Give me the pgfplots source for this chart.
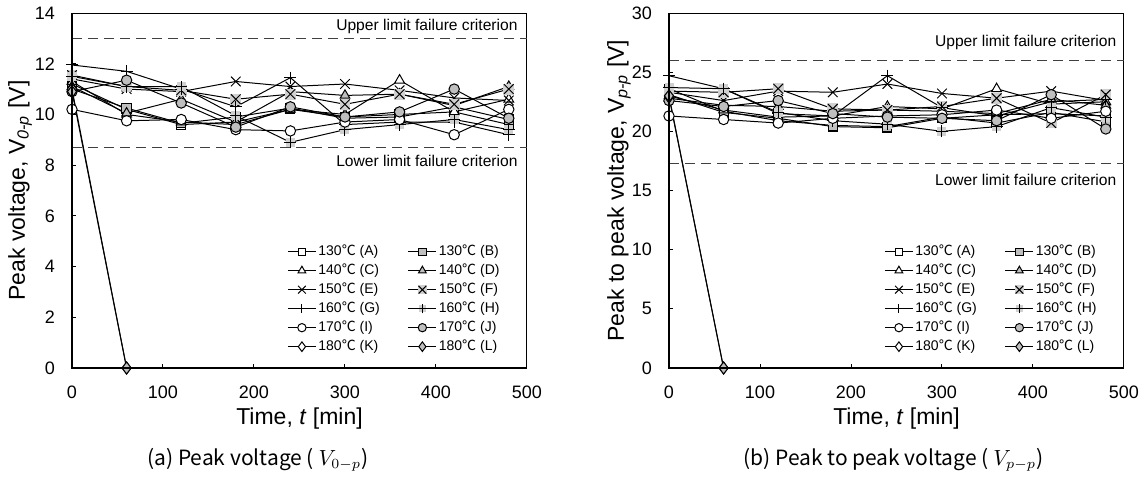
\documentclass[border=0pt]{standalone}
\usepackage{fontspec}
\setmainfont{Liberation Sans}
\newfontfamily\cjk{Noto Sans CJK KR}
\usepackage{pgfplots}
\pgfplotsset{compat=1.18}
\usepackage{pgfplotstable}

\definecolor{mgray}{HTML}{BFBFBF}
\definecolor{lgray}{HTML}{D0D0D0}
\definecolor{dgray}{HTML}{404040}

\pgfdeclareplotmark{xsq}{%
  \pgfpathrectangle{\pgfqpoint{-.8\pgfplotmarksize}{-.8\pgfplotmarksize}}{\pgfqpoint{1.6\pgfplotmarksize}{1.6\pgfplotmarksize}}%
  \pgfsetfillcolor{lgray}\pgfusepathqfill
  \pgfpathmoveto{\pgfqpoint{-.70710678\pgfplotmarksize}{-.70710678\pgfplotmarksize}}%
  \pgfpathlineto{\pgfqpoint{.70710678\pgfplotmarksize}{.70710678\pgfplotmarksize}}%
  \pgfpathmoveto{\pgfqpoint{-.70710678\pgfplotmarksize}{.70710678\pgfplotmarksize}}%
  \pgfpathlineto{\pgfqpoint{.70710678\pgfplotmarksize}{-.70710678\pgfplotmarksize}}%
  \pgfusepathqstroke
}
\pgfdeclareplotmark{plussq}{%
  \pgfpathrectangle{\pgfqpoint{-.75\pgfplotmarksize}{-.75\pgfplotmarksize}}{\pgfqpoint{1.5\pgfplotmarksize}{1.5\pgfplotmarksize}}%
  \pgfsetfillcolor{lgray}\pgfusepathqfill
  \pgfpathmoveto{\pgfqpoint{-\pgfplotmarksize}{0pt}}%
  \pgfpathlineto{\pgfqpoint{\pgfplotmarksize}{0pt}}%
  \pgfpathmoveto{\pgfqpoint{0pt}{-\pgfplotmarksize}}%
  \pgfpathlineto{\pgfqpoint{0pt}{\pgfplotmarksize}}%
  \pgfusepathqstroke
}

\pgfplotstableread{
t    A     B     C     D     E     F     G     H     I     J
0    11.2  11.0  11.3  11.1  11.4  11.55 11.95 11.5  10.2  10.9
60   10.2  10.25 10.0  10.05 11.0  11.1  11.7  11.1  9.75  11.35
120  9.6   9.65  9.7   10.6  10.9  10.95 11.0  11.1  9.8   10.45
180  9.7   9.9   9.6   9.7   11.3  10.6  10.3  9.95  9.4   9.5
240  10.2  10.25 10.2  10.9  11.1  10.8  11.45 8.9   9.35  10.3
300  9.9   9.85  10.0  10.75 11.2  10.4  9.6   9.4   9.7   9.9
360  10.0  9.9   11.35 10.8  10.95 10.8  9.7   9.6   9.8   10.1
420  10.1  10.3  10.1  10.35 10.65 10.4  9.7   9.8   9.2   11.0
480  9.6   9.8   10.6  11.1  10.55 11.0  9.2   9.4   10.2  9.85
}\leftdata

\pgfplotstableread{
t    A     B     C     D     E     F     G     H     I     J
0    23.1  23.6  23.0  22.8  23.3  23.4  24.7  23.7  21.3  22.6
60   21.6  21.7  21.8  22.2  22.6  23.3  23.6  23.6  21.0  22.1
120  21.1  20.9  21.2  22.1  23.4  23.6  21.5  21.6  20.7  22.6
180  20.4  20.5  21.3  21.7  23.3  21.9  21.3  20.9  21.1  21.5
240  20.3  20.4  22.1  21.8  24.0  21.8  24.7  20.6  21.3  21.2
300  21.1  21.2  21.9  21.7  23.2  22.1  22.0  20.0  21.4  21.1
360  21.4  20.7  23.6  21.5  22.8  22.8  21.3  20.4  21.8  20.9
420  21.5  21.6  22.3  22.7  23.4  20.7  22.5  22.0  21.1  23.1
480  21.3  20.8  22.5  22.2  22.6  23.1  22.7  21.2  21.7  20.2
}\rightdata

\pgfplotsset{
  myaxis/.style={
    scale only axis, width=227.5pt, height=177.5pt,
    xmin=0, xmax=500, xtick={0,100,...,500},
    axis line style={line width=0.5pt},
    tick align=inside, xtick pos=bottom, ytick pos=left,
    major tick length=2pt,
    tick style={black, line width=0.5pt},
    tick label style={font=\fontsize{9}{10}\selectfont},
    /pgf/number format/assume math mode=true,
    xticklabel style={yshift=-5.5pt},
    yticklabel style={xshift=-5pt},
    label style={font=\fontsize{11.5}{13}\selectfont},
    xlabel={Time, \textit{t} [min]},
    xlabel style={at={(axis description cs:0.5,-0.141)}, anchor=center},
    clip=false,
    legend columns=2,
    legend style={draw=none, fill=none, at={(0.945,0.035)}, anchor=south east,
      font=\fontsize{7}{8}\selectfont, inner sep=0pt, row sep=1pt,
      /tikz/every even column/.append style={column sep=13pt},
      nodes={text height=5pt, text depth=1.5pt, inner sep=1pt}},
    legend cell align=left,
    legend image code/.code={\draw[mark repeat=2,mark phase=2,##1,every mark/.append style={scale=0.8}] plot coordinates {(0pt,0pt)(7pt,0pt)(14pt,0pt)};},
    every axis plot/.append style={black, line width=0.5pt},
    after end axis/.code={\draw[line width=1pt] (rel axis cs:0,1) -- (rel axis cs:0,0) -- (rel axis cs:1,0);},
  },
  limline/.style={forget plot, dgray, line width=0.75pt, dash pattern=on 5pt off 3pt},
  sA/.style={mark=square*, mark size=2.3pt, mark options={fill=white, solid}},
  sB/.style={mark=square*, mark size=2.3pt, mark options={fill=mgray, solid}},
  sC/.style={mark=triangle*, mark size=2.8pt, mark options={fill=white, solid}},
  sD/.style={mark=triangle*, mark size=2.8pt, mark options={fill=mgray, solid}},
  sE/.style={mark=x, mark size=3.4pt},
  sF/.style={mark=xsq, mark size=3.4pt},
  sG/.style={mark=+, mark size=3pt},
  sH/.style={mark=plussq, mark size=3pt},
  sI/.style={mark=*, mark size=2.6pt, mark options={fill=white, solid}},
  sJ/.style={mark=*, mark size=2.6pt, mark options={fill=mgray, solid}},
  sK/.style={mark=diamond*, mark size=3pt, mark options={fill=white, solid}},
  sL/.style={mark=diamond*, mark size=3pt, mark options={fill=mgray, solid}},
}

\newcommand{\degC}{{\cjk ℃}}

\begin{document}
\begin{tikzpicture}
\useasboundingbox (0,0) rectangle (573.5pt,239.5pt);

% ---------------- (a) ----------------
\begin{axis}[myaxis, at={(36pt,55.5pt)}, anchor=south west,
  ymin=0, ymax=14, ytick={0,2,...,14},
  ylabel={Peak voltage, V\textsubscript{\itshape 0-p} [V]},
  ylabel style={at={(axis description cs:-0.114,0.5)}, anchor=center}]
\addplot[limline] coordinates {(0,13) (500,13)};
\addplot[limline] coordinates {(0,8.7) (500,8.7)};
\addplot[sA] table[x=t,y=A]{\leftdata}; \addlegendentry{130\degC{} (A)}
\addplot[sB] table[x=t,y=B]{\leftdata}; \addlegendentry{130\degC{} (B)}
\addplot[sC] table[x=t,y=C]{\leftdata}; \addlegendentry{140\degC{} (C)}
\addplot[sD] table[x=t,y=D]{\leftdata}; \addlegendentry{140\degC{} (D)}
\addplot[sE] table[x=t,y=E]{\leftdata}; \addlegendentry{150\degC{} (E)}
\addplot[sF] table[x=t,y=F]{\leftdata}; \addlegendentry{150\degC{} (F)}
\addplot[sG] table[x=t,y=G]{\leftdata}; \addlegendentry{160\degC{} (G)}
\addplot[sH] table[x=t,y=H]{\leftdata}; \addlegendentry{160\degC{} (H)}
\addplot[sI] table[x=t,y=I]{\leftdata}; \addlegendentry{170\degC{} (I)}
\addplot[sJ] table[x=t,y=J]{\leftdata}; \addlegendentry{170\degC{} (J)}
\addplot[sK] coordinates {(0,11.0) (60,0)}; \addlegendentry{180\degC{} (K)}
\addplot[sL] coordinates {(0,10.9) (60,0)}; \addlegendentry{180\degC{} (L)}
\node[anchor=east, font=\fontsize{7.8}{9}\selectfont, inner sep=0pt] at (axis cs:490,13.45) {Upper limit failure criterion};
\node[anchor=east, font=\fontsize{7.8}{9}\selectfont, inner sep=0pt] at (axis cs:490,8.16) {Lower limit failure criterion};
\end{axis}

% ---------------- (b) ----------------
\begin{axis}[myaxis, at={(334.5pt,55.5pt)}, anchor=south west,
  ymin=0, ymax=30, ytick={0,5,...,30},
  ylabel={Peak to peak voltage, V\textsubscript{\itshape p-p} [V]},
  ylabel style={at={(axis description cs:-0.110,0.5)}, anchor=center}]
\addplot[limline] coordinates {(0,26) (500,26)};
\addplot[limline] coordinates {(0,17.3) (500,17.3)};
\addplot[sA] table[x=t,y=A]{\rightdata}; \addlegendentry{130\degC{} (A)}
\addplot[sB] table[x=t,y=B]{\rightdata}; \addlegendentry{130\degC{} (B)}
\addplot[sC] table[x=t,y=C]{\rightdata}; \addlegendentry{140\degC{} (C)}
\addplot[sD] table[x=t,y=D]{\rightdata}; \addlegendentry{140\degC{} (D)}
\addplot[sE] table[x=t,y=E]{\rightdata}; \addlegendentry{150\degC{} (E)}
\addplot[sF] table[x=t,y=F]{\rightdata}; \addlegendentry{150\degC{} (F)}
\addplot[sG] table[x=t,y=G]{\rightdata}; \addlegendentry{160\degC{} (G)}
\addplot[sH] table[x=t,y=H]{\rightdata}; \addlegendentry{160\degC{} (H)}
\addplot[sI] table[x=t,y=I]{\rightdata}; \addlegendentry{170\degC{} (I)}
\addplot[sJ] table[x=t,y=J]{\rightdata}; \addlegendentry{170\degC{} (J)}
\addplot[sK] coordinates {(0,22.9) (60,0)}; \addlegendentry{180\degC{} (K)}
\addplot[sL] coordinates {(0,23.0) (60,0)}; \addlegendentry{180\degC{} (L)}
\node[anchor=east, font=\fontsize{7.8}{9}\selectfont, inner sep=0pt] at (axis cs:492,27.47) {Upper limit failure criterion};
\node[anchor=east, font=\fontsize{7.8}{9}\selectfont, inner sep=0pt] at (axis cs:492,15.9) {Lower limit failure criterion};
\end{axis}

\node[anchor=west, font=\cjk\fontsize{10.5}{12}\selectfont, inner sep=0pt] at (73.5pt,9.5pt) {(a) Peak voltage ( $V_{0-p}$)};
\node[anchor=west, font=\cjk\fontsize{10.5}{12}\selectfont, inner sep=0pt] at (371.5pt,9.5pt) {(b) Peak to peak voltage ( $V_{p-p}$)};
\end{tikzpicture}
\end{document}
